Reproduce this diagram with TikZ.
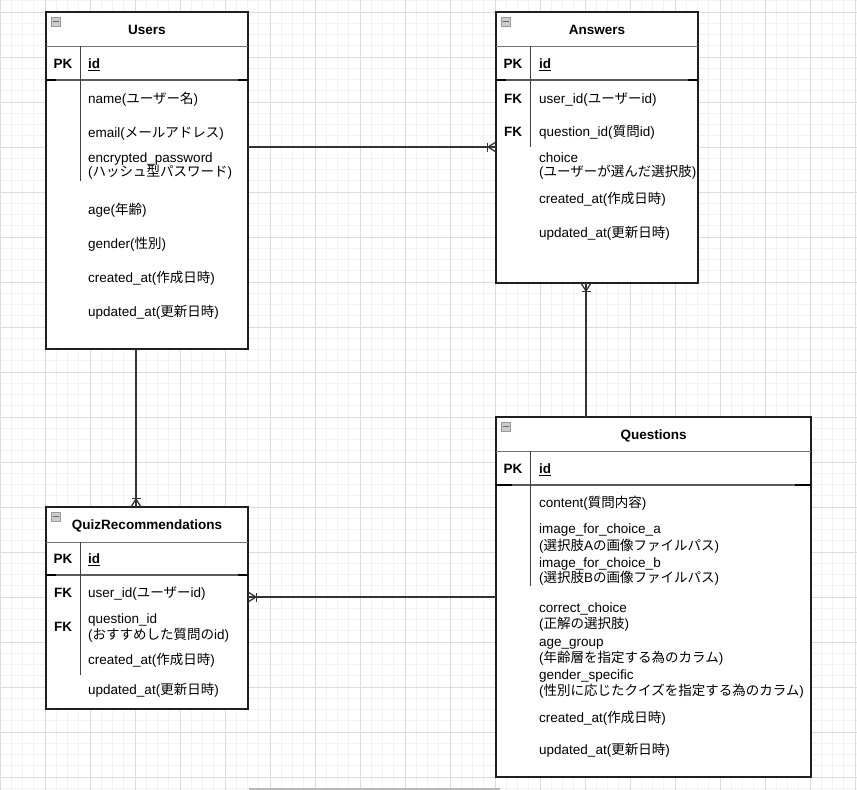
\documentclass[tikz,border=0pt]{standalone}
\usepackage{fontspec}
\setmainfont{Liberation Sans}
\newfontfamily\jpfont{Noto Sans CJK JP}
\usetikzlibrary{calc}
\newcommand\jp[1]{{\jpfont #1}}
\definecolor{gridminor}{HTML}{F2F2F2}
\definecolor{gridmajor}{HTML}{DCDCDC}
\tikzset{
 tbl/.style={draw=black!88, line width=1.3pt, fill=white, anchor=north west, inner sep=0pt, outer sep=0pt},
 hdrline/.style={draw=black!55, line width=0.9pt},
 pkline/.style={draw=black!65, line width=1.5pt},
 pkend/.style={draw=black, line width=2.4pt},
 vdiv/.style={draw=black!75, line width=1pt},
 fld/.style={anchor=west, inner sep=0pt, text height=11pt, text depth=0pt, font=\fontsize{13.5}{16}\selectfont},
 keytxt/.style={anchor=center, inner sep=0pt, text height=11pt, text depth=0pt, font=\fontsize{13.5}{16}\selectfont\bfseries},
 ttl/.style={anchor=center, inner sep=0pt, text height=11pt, text depth=0pt, font=\fontsize{13.5}{16}\selectfont\bfseries},
 rel/.style={draw=black!80, line width=1.3pt},
 icon/.style={draw=gray!80, fill=gray!40, line width=0.6pt, minimum size=9pt, inner sep=0pt, outer sep=0pt},
 icondash/.style={draw=black!60, line width=1.3pt},
 gmin/.style={draw=gridminor, line width=1pt},
 gmaj/.style={draw=gridmajor, line width=1pt}
}
\newcommand\crowend[3]{%
 \draw[rel] ($(#1)+({-8*(#2)},{-8*(#3)})$) -- ($(#1)+({5*(#3)},{-5*(#2)})$);
 \draw[rel] ($(#1)+({-8*(#2)},{-8*(#3)})$) -- ($(#1)+({-5*(#3)},{5*(#2)})$);
 \draw[rel] ($(#1)+({-8.5*(#2)+4.5*(#3)},{-8.5*(#3)-4.5*(#2)})$) -- ($(#1)+({-8.5*(#2)-4.5*(#3)},{-8.5*(#3)+4.5*(#2)})$);
}
\begin{document}
\begin{tikzpicture}[x=1pt,y=-1pt]
\useasboundingbox[fill=white] (0,0) rectangle (857,790);
% grid
\foreach \i in {0,...,76} {\draw[gmin] ({\i*11.25},0) -- ({\i*11.25},790);}
\foreach \i in {-1,...,69} {\draw[gmin] (0,{12+\i*11.25}) -- (857,{12+\i*11.25});}
\foreach \i in {0,...,19} {\draw[gmaj] ({\i*45},0) -- ({\i*45},790);}
\foreach \i in {0,...,17} {\draw[gmaj] (0,{12+\i*45}) -- (857,{12+\i*45});}
\draw[draw=gray!55, line width=2pt] (249,789) -- (500,789);

% ---------- Users ----------
\node[tbl, minimum width=202pt, minimum height=337pt] (users) at (46,12) {};
\draw[hdrline] (46,46) -- (248,46);
\draw[pkline] (46,80) -- (248,80);
\draw[pkend] (46,80) -- (56,80); \draw[pkend] (238,80) -- (248,80);
\draw[vdiv] (80,46) -- (80,181);
\node[icon] (uicon) at (55.5,21.5) {};
\draw[icondash] ($(uicon.center)+(-3,0)$) -- ($(uicon.center)+(3,0)$);
\node[ttl] (ut) at (147,29) {Users};
\node[keytxt] (upk) at (63,63) {PK};
\node[fld] (uid) at (88,63) {\underline{\textbf{id}}};
\node[fld] (u1) at (88,98) {name(\jp{ユーザー名})};
\node[fld] (u2) at (88,132) {email(\jp{メールアドレス})};
\node[fld] (u3) at (88,157) {encrypted\_password};
\node[fld] (u3b) at (88,171) {(\jp{ハッシュ型パスワード})};
\node[fld] (u4) at (88,209) {age(\jp{年齢})};
\node[fld] (u5) at (88,243) {gender(\jp{性別})};
\node[fld] (u6) at (88,277) {created\_at(\jp{作成日時})};
\node[fld] (u7) at (88,311) {updated\_at(\jp{更新日時})};

% ---------- Answers ----------
\node[tbl, minimum width=202pt, minimum height=271pt] (answers) at (496,12) {};
\draw[hdrline] (496,46) -- (698,46);
\draw[pkline] (496,80) -- (698,80);
\draw[pkend] (496,80) -- (506,80); \draw[pkend] (688,80) -- (698,80);
\draw[vdiv] (530,46) -- (530,147);
\node[icon] (aicon) at (505.5,21.5) {};
\draw[icondash] ($(aicon.center)+(-3,0)$) -- ($(aicon.center)+(3,0)$);
\node[ttl] (at) at (597,29) {Answers};
\node[keytxt] (apk) at (513,63) {PK};
\node[fld] (aid) at (539,63) {\underline{\textbf{id}}};
\node[keytxt] (afk1) at (513,98) {FK};
\node[fld] (a1) at (539,98) {user\_id(\jp{ユーザー}id)};
\node[keytxt] (afk2) at (513,131) {FK};
\node[fld] (a2) at (539,131) {question\_id(\jp{質問}id)};
\node[fld] (a3) at (539,157) {choice};
\node[fld] (a3b) at (539,171) {(\jp{ユーザーが選んだ選択肢})};
\node[fld] (a4) at (539,198) {created\_at(\jp{作成日時})};
\node[fld] (a5) at (539,232) {updated\_at(\jp{更新日時})};

% ---------- QuizRecommendations ----------
\node[tbl, minimum width=202pt, minimum height=202pt] (qr) at (46,507) {};
\draw[hdrline] (46,542) -- (248,542);
\draw[pkline] (46,575) -- (248,575);
\draw[pkend] (46,575) -- (56,575); \draw[pkend] (238,575) -- (248,575);
\draw[vdiv] (80,542) -- (80,675);
\node[icon] (qicon) at (55.5,516.5) {};
\draw[icondash] ($(qicon.center)+(-3,0)$) -- ($(qicon.center)+(3,0)$);
\node[ttl] (qt) at (147,524) {QuizRecommendations};
\node[keytxt] (qpk) at (63,558) {PK};
\node[fld] (qid) at (88,558) {\underline{\textbf{id}}};
\node[keytxt] (qfk1) at (63,592) {FK};
\node[fld] (q1) at (88,592) {user\_id(\jp{ユーザー}id)};
\node[keytxt] (qfk2) at (63,626) {FK};
\node[fld] (q2) at (88,618) {question\_id};
\node[fld] (q2b) at (88,634) {(\jp{おすすめした質問の}id)};
\node[fld] (q3) at (88,659) {created\_at(\jp{作成日時})};
\node[fld] (q4) at (88,689) {updated\_at(\jp{更新日時})};

% ---------- Questions ----------
\node[tbl, minimum width=315pt, minimum height=360pt] (questions) at (496,417) {};
\draw[hdrline] (496,451) -- (811,451);
\draw[pkline] (496,485) -- (811,485);
\draw[pkend] (496,485) -- (512,485); \draw[pkend] (795,485) -- (811,485);
\draw[vdiv] (530,451) -- (530,586);
\node[icon] (sicon) at (505.5,426.5) {};
\draw[icondash] ($(sicon.center)+(-3,0)$) -- ($(sicon.center)+(3,0)$);
\node[ttl] (st) at (653.5,434) {Questions};
\node[keytxt] (spk) at (513,468) {PK};
\node[fld] (sid) at (539,468) {\underline{\textbf{id}}};
\node[fld] (s1) at (539,502) {content(\jp{質問内容})};
\node[fld] (s2) at (539,528) {image\_for\_choice\_a};
\node[fld] (s2b) at (539,545) {(\jp{選択肢}A\jp{の画像ファイルパス})};
\node[fld] (s3) at (539,562) {image\_for\_choice\_b};
\node[fld] (s3b) at (539,577) {(\jp{選択肢}B\jp{の画像ファイルパス})};
\node[fld] (s4) at (539,607) {correct\_choice};
\node[fld] (s4b) at (539,623) {(\jp{正解の選択肢})};
\node[fld] (s5) at (539,641) {age\_group};
\node[fld] (s5b) at (539,657) {(\jp{年齢層を指定する為のカラム})};
\node[fld] (s6) at (539,674) {gender\_specific};
\node[fld] (s6b) at (539,690) {(\jp{性別に応じたクイズを指定する為のカラム})};
\node[fld] (s7) at (539,717) {created\_at(\jp{作成日時})};
\node[fld] (s8) at (539,749) {updated\_at(\jp{更新日時})};

% ---------- connectors ----------
\coordinate (ua) at (0,147);
\coordinate (uaS) at (users.east |- ua);
\coordinate (uaE) at (answers.west |- ua);
\draw[rel] (uaS) -- (uaE);
\crowend{uaE}{1}{0}

\coordinate (aq) at (586,0);
\coordinate (aqS) at (answers.south -| aq);
\coordinate (aqE) at (questions.north -| aq);
\draw[rel] (aqS) -- (aqE);
\crowend{aqS}{0}{-1}

\coordinate (uq) at (136,0);
\coordinate (uqS) at (users.south -| uq);
\coordinate (uqE) at (qr.north -| uq);
\draw[rel] (uqS) -- (uqE);
\crowend{uqE}{0}{1}

\coordinate (qq) at (0,597);
\coordinate (qqS) at (questions.west |- qq);
\coordinate (qqE) at (qr.east |- qq);
\draw[rel] (qqS) -- (qqE);
\crowend{qqE}{-1}{0}
\end{tikzpicture}
\end{document}
